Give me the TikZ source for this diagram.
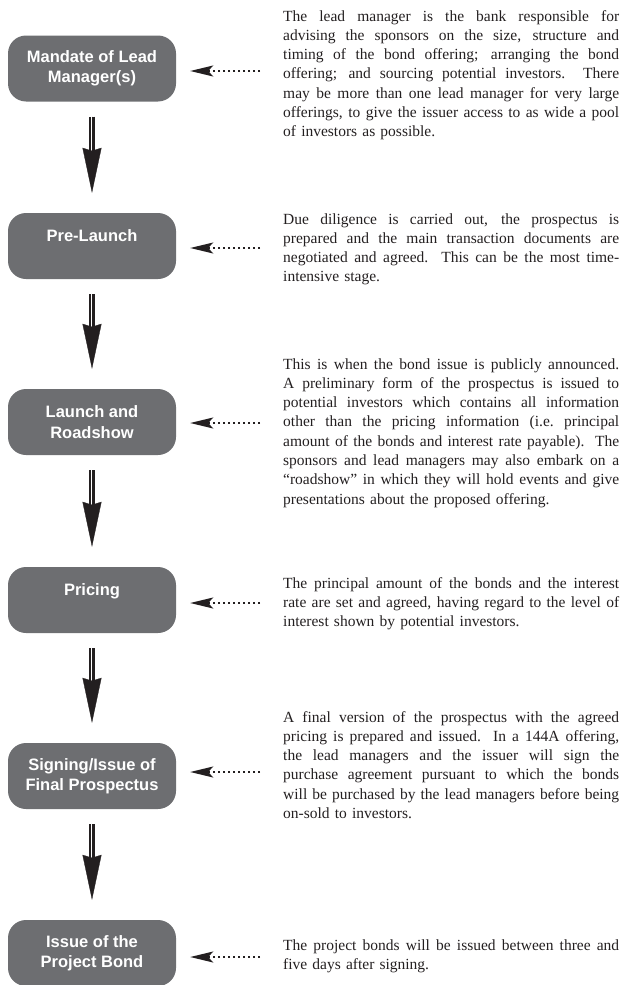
\documentclass[tikz,border=0pt]{standalone}
\usepackage{fontspec}
\setmainfont{Liberation Serif}
\newfontfamily\boxfont{Liberation Sans}
\usetikzlibrary{arrows.meta,calc}
\definecolor{boxgray}{RGB}{109,110,113}
\definecolor{ink}{RGB}{35,31,32}
\newcommand{\jl}[1]{\makebox[336pt][s]{\spaceskip=0.25em plus 1fil minus 0.1em\relax\xspaceskip=\spaceskip #1}}
\tikzset{
  stagebox/.style={fill=boxgray, draw=none, rounded corners=18pt, minimum width=168pt,
    minimum height=66pt, inner sep=0pt, align=center, text=white,
    font={\boxfont\bfseries\fontsize{16.5}{20.5}\selectfont}},
  para/.style={anchor=base west, inner sep=0pt, text width=336pt, text=ink,
    font={\fontsize{15.5}{19.3}\selectfont}},
  shaft/.style={draw=ink, line width=1.5pt, double=white, double distance=2.6pt},
  headarrow/.style={draw=ink, line width=0.3pt, -{Stealth[length=45pt,width=19pt,inset=3pt,fill=ink]}},
  dotarrow/.style={draw=ink, line width=1.6pt, dash pattern=on 1.6pt off 3.4pt,
    -{Stealth[length=23pt,width=11pt,inset=5pt,fill=ink]}, shorten >=14pt}
}
\begin{document}
\begin{tikzpicture}[x=1pt,y=-1pt]
\useasboundingbox (0,0) rectangle (622,985);

\node[stagebox] (b1) at (92,68.5) {Mandate of Lead\\Manager(s)};
\node[stagebox] (b2) at (92,246) {Pre-Launch\\\mbox{}};
\node[stagebox] (b3) at (92,422) {Launch and\\Roadshow};
\node[stagebox] (b4) at (92,600) {Pricing\\\mbox{}};
\node[stagebox] (b5) at (92,776) {Signing/Issue of\\Final Prospectus};
\node[stagebox] (b6) at (92,953) {Issue of the\\Project Bond};

\foreach \a/\b in {b1/b2,b2/b3,b3/b4,b4/b5,b5/b6}{
  \coordinate (s-\a) at ($(\a.south)+(0,15)$);
  \coordinate (t-\a) at ($(\b.north)+(0,-20)$);
  \draw[shaft] (s-\a) -- ($(t-\a)+(0,-38)$);
  \draw[headarrow] (s-\a) -- (t-\a);
}

\coordinate (d1) at (260,71);
\coordinate (d2) at (260,248);
\coordinate (d3) at (260,423);
\coordinate (d4) at (260,603);
\coordinate (d5) at (260,772);
\coordinate (d6) at (260,957);
\foreach \i in {1,...,6}{
  \draw[dotarrow] (d\i) -- (b\i.east |- d\i);
}

\node[para] (p1) at (283,21) {\jl{The lead manager is the bank responsible for}\\
\jl{advising the sponsors on the size, structure and}\\
\jl{timing of the bond offering; arranging the bond}\\
\jl{offering; and sourcing potential investors.\ \ There}\\
\jl{may be more than one lead manager for very large}\\
\jl{offerings, to give the issuer access to as wide a pool}\\
of investors as possible.};

\node[para] (p2) at (283,224) {\jl{Due diligence is carried out, the prospectus is}\\
\jl{prepared and the main transaction documents are}\\
\jl{negotiated and agreed.\ \ This can be the most time-}\\
intensive stage.};

\node[para] (p3) at (283,369) {\jl{This is when the bond issue is publicly announced.}\\
\jl{A preliminary form of the prospectus is issued to}\\
\jl{potential investors which contains all information}\\
\jl{other than the pricing information (i.e. principal}\\
\jl{amount of the bonds and interest rate payable).\ \ The}\\
\jl{sponsors and lead managers may also embark on a}\\
\jl{“roadshow” in which they will hold events and give}\\
presentations about the proposed offering.};

\node[para] (p4) at (283,588) {\jl{The principal amount of the bonds and the interest}\\
\jl{rate are set and agreed, having regard to the level of}\\
interest shown by potential investors.};

\node[para] (p5) at (283,722) {\jl{A final version of the prospectus with the agreed}\\
\jl{pricing is prepared and issued.\ \ In a 144A offering,}\\
\jl{the lead managers and the issuer will sign the}\\
\jl{purchase agreement pursuant to which the bonds}\\
\jl{will be purchased by the lead managers before being}\\
on-sold to investors.};

\node[para] (p6) at (283,950) {\jl{The project bonds will be issued between three and}\\
five days after signing.};
\end{tikzpicture}
\end{document}
